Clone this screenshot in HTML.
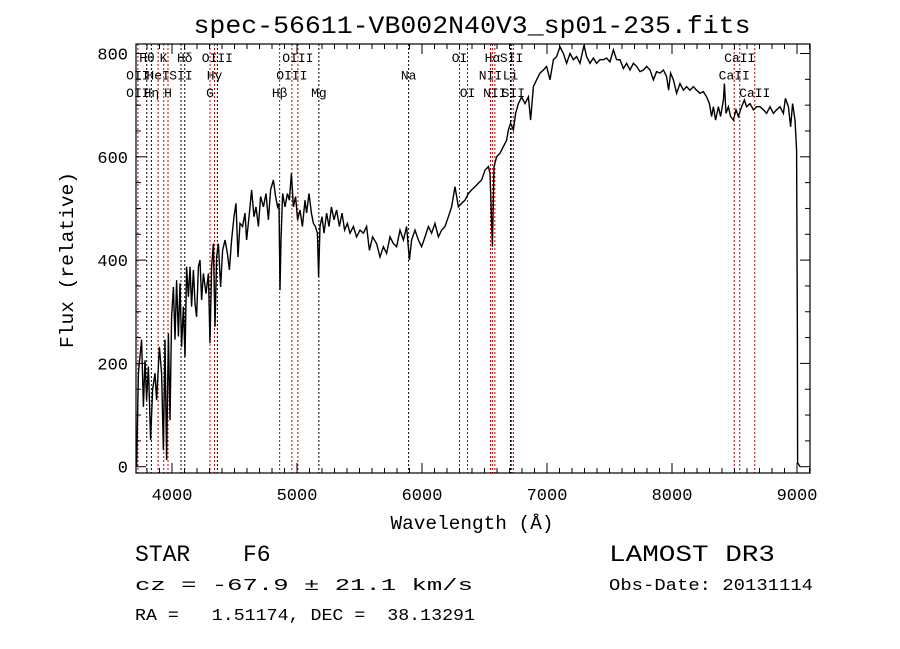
<!DOCTYPE html>
<html><head><meta charset="utf-8"><style>
body{margin:0;background:#fff}
svg{display:block}
text{font-family:"Liberation Mono","DejaVu Sans Mono",monospace;fill:#000;white-space:pre}
</style></head><body>
<svg id="chart" width="900" height="649" xmlns="http://www.w3.org/2000/svg">
<rect width="900" height="649" fill="#fff"/>
<text x="472" y="33" font-size="25" text-anchor="middle" textLength="557" lengthAdjust="spacingAndGlyphs">spec-56611-VB002N40V3_sp01-235.fits</text>
<text x="472" y="529" font-size="19" text-anchor="middle" textLength="163" lengthAdjust="spacingAndGlyphs">Wavelength (Å)</text>
<text transform="translate(73,260) rotate(-90)" font-size="19" text-anchor="middle" textLength="176" lengthAdjust="spacingAndGlyphs">Flux (relative)</text>
<text x="135" y="561" font-family="Liberation Serif" font-size="23">STAR</text>
<text x="243" y="561" font-family="Liberation Serif" font-size="23">F6</text>
<text x="135" y="590" font-size="17" textLength="338" lengthAdjust="spacingAndGlyphs">cz = -67.9 ± 21.1 km/s</text>
<text x="135" y="620" font-size="17" textLength="340" lengthAdjust="spacingAndGlyphs" xml:space="preserve">RA =   1.51174, DEC =  38.13291</text>
<text x="609" y="561" font-family="Liberation Serif" font-size="23" textLength="166" lengthAdjust="spacingAndGlyphs">LAMOST DR3</text>
<text x="609" y="590" font-size="17" textLength="204" lengthAdjust="spacingAndGlyphs">Obs-Date: 20131114</text>
<g id="lines"></g>
<g id="plot"></g>
<g id="axes"></g>
</svg>
<script>
const wavelengths=[3717,3731,3757,3771,3784,3797,3811,3829,3845,3864,3877,3899,3917,3931,3944,3957,3971,3984,3997,4011,4024,4037,4051,4064,4077,4091,4104,4117,4131,4144,4157,4171,4184,4197,4211,4224,4237,4251,4272,4291,4304,4317,4331,4344,4357,4371,4389,4405,4424,4443,4459,4477,4496,4512,4528,4544,4565,4584,4597,4619,4637,4656,4672,4691,4709,4731,4752,4771,4789,4811,4829,4845,4856,4864,4872,4885,4904,4923,4939,4955,4971,4989,5005,5024,5043,5064,5077,5096,5115,5131,5147,5163,5173,5184,5200,5216,5237,5256,5275,5296,5317,5339,5360,5381,5403,5424,5451,5477,5504,5531,5557,5579,5605,5637,5664,5691,5717,5744,5771,5797,5824,5851,5877,5899,5917,5944,5971,5997,6024,6051,6077,6104,6131,6157,6184,6211,6237,6264,6291,6317,6344,6371,6397,6424,6451,6477,6504,6531,6544,6563,6576,6597,6624,6651,6677,6691,6709,6731,6749,6771,6797,6824,6851,6869,6891,6917,6944,6971,6997,7024,7051,7077,7104,7131,7157,7184,7211,7237,7264,7296,7317,7344,7371,7397,7424,7451,7477,7504,7531,7557,7584,7611,7637,7664,7691,7717,7744,7771,7797,7824,7851,7877,7904,7931,7957,7973,7989,8011,8037,8064,8091,8117,8144,8171,8197,8224,8251,8277,8299,8317,8331,8349,8371,8389,8411,8419,8432,8451,8469,8491,8512,8531,8557,8579,8597,8624,8651,8677,8704,8731,8757,8784,8811,8837,8864,8891,8907,8931,8949,8965,8984,8997,9003,9005,9024];
const fluxValues=[0,181,246,116,206,129,194,52,149,181,129,232,181,32,246,13,258,90,290,348,246,361,252,355,232,310,213,387,329,387,310,381,316,290,387,400,323,374,335,374,239,387,432,271,406,432,348,419,439,413,381,439,484,510,406,471,465,491,439,491,536,484,503,465,523,503,529,478,536,555,523,503,510,342,439,529,503,529,516,568,503,523,478,497,465,516,491,529,491,471,465,452,368,465,484,452,491,465,503,478,497,465,491,458,471,452,465,445,458,452,465,419,445,432,406,426,413,445,432,426,458,439,465,400,439,458,439,426,445,465,452,471,445,458,465,484,503,542,503,510,516,529,536,542,549,555,574,581,568,426,581,600,607,620,632,652,665,652,684,703,716,703,716,671,736,749,762,768,775,749,788,794,813,800,781,800,788,794,781,816,794,781,791,781,788,788,791,784,807,788,788,771,781,768,781,775,765,768,775,768,749,765,762,768,755,729,762,749,723,742,729,736,729,736,729,723,726,716,703,678,697,671,697,678,710,742,684,697,678,671,691,678,697,710,697,703,691,697,697,691,684,697,684,691,697,684,713,697,658,703,671,613,246,8,0];
const lineWaves=[3727,3798,3835,3889,3934,3968,4072,4102,4304,4340,4363,4861,4959,5007,5175,5893,6300,6364,6548,6563,6583,6708,6717,6731,8498,8542,8662];
const lineRed=[1,0,0,1,1,1,0,0,1,1,0,1,1,1,0,0,1,1,1,1,1,0,1,1,1,1,1];
const labelTexts=["Hθ","K","Hδ","OIII","OIII","OI","Hα","SII","CaII","OII","HeI","SII","Hγ","OIII","Na","NII","Li","CaII","OII","Hη","H","G","Hβ","Mg","OI","NII","SII","CaII"];
const labelWaves=[3800,3932,4102,4363,5007,6300,6563,6717,8542,3727,3889,4072,4340,4959,5893,6548,6708,8498,3727,3835,3968,4304,4861,5175,6364,6583,6731,8662];
const labelRows=[0,0,0,0,0,0,0,0,0,1,1,1,1,1,1,1,1,1,2,2,2,2,2,2,2,2,2,2];
const xTicks=[4000,5000,6000,7000,8000,9000];
const yTicks=[0,200,400,600,800];

const L=136,R=810,T=44,B=473;
const xMin=3712,xMax=9104,yZero=466.7,yPer=103.3/200;
const xs=w=>L+(w-xMin)/(xMax-xMin)*(R-L);
const ys=f=>yZero-f*yPer;
const NS="http://www.w3.org/2000/svg";
function mk(tag,attrs,parent){const e=document.createElementNS(NS,tag);for(const k in attrs)e.setAttribute(k,attrs[k]);parent.appendChild(e);return e;}

const lg=document.getElementById('lines');
lineWaves.forEach((w,i)=>{
  const l=mk('line',{x1:xs(w),x2:xs(w),y1:T,y2:B,stroke:lineRed[i]?'#c00000':'#000','stroke-width':1,'stroke-dasharray':'2,2'},lg);
  
  
});
labelTexts.forEach((t,i)=>{
  const e=mk('text',{x:xs(labelWaves[i]),y:62+labelRows[i]*17.5,'font-size':13,'font-family':'Liberation Serif','text-anchor':'middle'},lg);
  e.textContent=t;
  
  
});

const pg=document.getElementById('plot');
let d='';
wavelengths.forEach((w,i)=>{d+=(i?'L':'M')+xs(w).toFixed(1)+','+ys(fluxValues[i]).toFixed(1);});
const p=mk('path',{d:d,fill:'none',stroke:'#000','stroke-width':1.4},pg);



const ag=document.getElementById('axes');
const frame=mk('rect',{x:L,y:T,width:R-L,height:B-T,fill:'none',stroke:'#000','stroke-width':1.2},ag);


for(let w=3800;w<=9100;w+=100){
  const x=xs(w),len=(w%1000===0)?10:5;
  mk('line',{x1:x,x2:x,y1:B,y2:B-len,stroke:'#000'},ag);
  mk('line',{x1:x,x2:x,y1:T,y2:T+len,stroke:'#000'},ag);
}
for(let f=0;f<=800;f+=50){
  const y=ys(f),len=(f%200===0)?10:5;
  mk('line',{x1:L,x2:L+len,y1:y,y2:y,stroke:'#000'},ag);
  mk('line',{x1:R,x2:R-len,y1:y,y2:y,stroke:'#000'},ag);
}
xTicks.forEach(v=>{
  const t=mk('text',{x:xs(v),y:500,'font-size':17,'text-anchor':'middle'},ag);
  t.textContent=v;
  
  
});
yTicks.forEach(v=>{
  const t=mk('text',{x:128,y:ys(v)+6,'font-size':17,'text-anchor':'end'},ag);
  t.textContent=v;
  
  
});
</script>
</body></html>
